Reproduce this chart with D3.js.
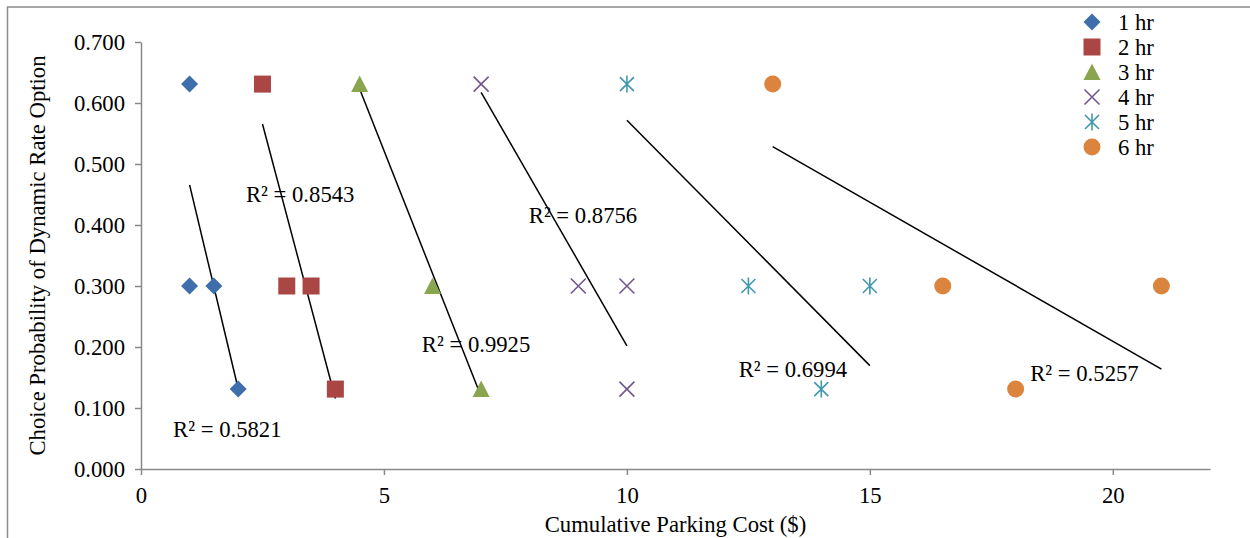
<!DOCTYPE html>
<html>
<head>
<meta charset="utf-8">
<script src="https://cdn.jsdelivr.net/npm/d3@7"></script>
<style>
  body { margin: 0; background: #fff; }
  svg { display: block; font-family: "Liberation Serif", "Times New Roman", serif; }
</style>
</head>
<body>
<svg id="chart" width="1250" height="538"></svg>
<script>
// series names and points
const seriesNames = ['1 hr', '2 hr', '3 hr', '4 hr', '5 hr', '6 hr'];
const costs = [
  [1, 1, 1.5, 2],
  [2.5, 3, 3.5, 4],
  [4.5, 6, 7],
  [7, 9, 10, 10],
  [10, 12.5, 15, 14],
  [13, 16.5, 21, 18]
];
const probs = [
  [0.631, 0.300, 0.300, 0.131],
  [0.631, 0.300, 0.300, 0.131],
  [0.631, 0.300, 0.131],
  [0.631, 0.300, 0.300, 0.131],
  [0.631, 0.300, 0.300, 0.131],
  [0.631, 0.300, 0.300, 0.131]
];
const r2Labels = ['R² = 0.5821', 'R² = 0.8543', 'R² = 0.9925', 'R² = 0.8756', 'R² = 0.6994', 'R² = 0.5257'];
// where each R² label sits, in data units (left edge, baseline)
const r2LabelX = [0.66, 2.16, 5.78, 7.98, 12.3, 18.3];
const r2LabelY = [0.052, 0.438, 0.192, 0.403, 0.151, 0.145];
const xTicks = [0, 5, 10, 15, 20];
const yTicks = [0, 0.1, 0.2, 0.3, 0.4, 0.5, 0.6, 0.7];

const colors = ['#3E6EAB', '#AA4643', '#89A54E', '#71588F', '#4198AF', '#DB843D'];
const shapes = ['diamond', 'square', 'triangle', 'cross', 'star', 'circle'];

const fontSize = '22.7px';

const svg = d3.select('#chart');
const margin = { top: 42, right: 40, bottom: 69, left: 141 };
const width = +svg.attr('width');
const height = +svg.attr('height');

// outer chart border (extends past the right and bottom edge)
svg.append('rect')
  .attr('x', 7.5).attr('y', 7)
  .attr('width', width + 20).attr('height', height + 20)
  .attr('fill', 'none')
  .attr('stroke', '#8c8c8c')
  .attr('stroke-width', 1.5);

const x = d3.scaleLinear().domain([0, 22]).range([margin.left, width - margin.right]);
const y = d3.scaleLinear().domain([0, 0.7]).range([height - margin.bottom, margin.top]);

const axisColor = '#898989';

const xAxis = svg.append('g')
  .attr('transform', `translate(0,${y(0)})`)
  .call(d3.axisBottom(x).tickValues(xTicks).tickSize(6).tickPadding(12).tickSizeOuter(0));
const yAxis = svg.append('g')
  .attr('transform', `translate(${x(0)},0)`)
  .call(d3.axisLeft(y).tickValues(yTicks).tickFormat(d3.format('.3f')).tickSize(6).tickPadding(10).tickSizeOuter(0));

[xAxis, yAxis].forEach(a => {
  a.select('.domain').attr('stroke', axisColor).attr('stroke-width', 1.5);
  a.selectAll('.tick line').attr('stroke', axisColor).attr('stroke-width', 1.5);
  a.selectAll('.tick text')
    .attr('fill', '#000')
    .style('font-size', fontSize)
    .style('font-family', '"Liberation Serif", serif');
});

svg.append('text')
  .attr('x', (x(0) + x(22)) / 2)
  .attr('y', 532)
  .attr('text-anchor', 'middle')
  .style('font-size', fontSize)
  .text('Cumulative Parking Cost ($)');

svg.append('text')
  .attr('transform', `translate(45,${(y(0) + y(0.7)) / 2}) rotate(-90)`)
  .attr('text-anchor', 'middle')
  .style('font-size', fontSize)
  .text('Choice Probability of Dynamic Rate Option');

// linear trendline per series, from min x to max x
function fit(xs, ys) {
  const mx = d3.mean(xs), my = d3.mean(ys);
  let sxy = 0, sxx = 0;
  xs.forEach((v, i) => { sxy += (v - mx) * (ys[i] - my); sxx += (v - mx) ** 2; });
  const b = sxy / sxx;
  return v => my + b * (v - mx);
}

const plot = svg.append('g');

costs.forEach((xs, s) => {
  const f = fit(xs, probs[s]);
  const [x0, x1] = d3.extent(xs);
  plot.append('line')
    .attr('x1', x(x0)).attr('y1', y(f(x0)))
    .attr('x2', x(x1)).attr('y2', y(f(x1)))
    .attr('stroke', '#000')
    .attr('stroke-width', 1.5);
});

function drawMarker(g, shape, color, cx, cy) {
  const m = g.append('g').attr('transform', `translate(${cx},${cy})`);
  if (shape === 'diamond') {
    m.append('path').attr('d', 'M0,-8.5L8.5,0L0,8.5L-8.5,0Z').attr('fill', color);
  } else if (shape === 'square') {
    m.append('rect').attr('x', -8.5).attr('y', -8.5).attr('width', 17).attr('height', 17).attr('fill', color);
  } else if (shape === 'triangle') {
    m.append('path').attr('d', 'M0,-8.5L8.5,8L-8.5,8Z').attr('fill', color);
  } else if (shape === 'circle') {
    m.append('circle').attr('r', 8.5).attr('fill', color);
  } else if (shape === 'cross') {
    m.append('path').attr('d', 'M-7.5,-7.5L7.5,7.5M-7.5,7.5L7.5,-7.5')
      .attr('stroke', color).attr('stroke-width', 1.6).attr('fill', 'none');
  } else if (shape === 'star') {
    m.append('path').attr('d', 'M-7,-7L7,7M-7,7L7,-7M0,-8.5L0,8.5')
      .attr('stroke', color).attr('stroke-width', 1.6).attr('fill', 'none');
  }
}

costs.forEach((xs, s) => {
  xs.forEach((v, i) => drawMarker(plot, shapes[s], colors[s], x(v), y(probs[s][i])));
});

r2Labels.forEach((t, i) => {
  svg.append('text')
    .attr('x', x(r2LabelX[i]))
    .attr('y', y(r2LabelY[i]))
    .style('font-size', fontSize)
    .text(t);
});

// legend
const legend = svg.append('g').attr('transform', 'translate(1092,22)');
seriesNames.forEach((name, i) => {
  drawMarker(legend, shapes[i], colors[i], 0, i * 25);
  legend.append('text')
    .attr('x', 26)
    .attr('y', i * 25 + 8)
    .style('font-size', fontSize)
    .text(name);
});
</script>
</body>
</html>
